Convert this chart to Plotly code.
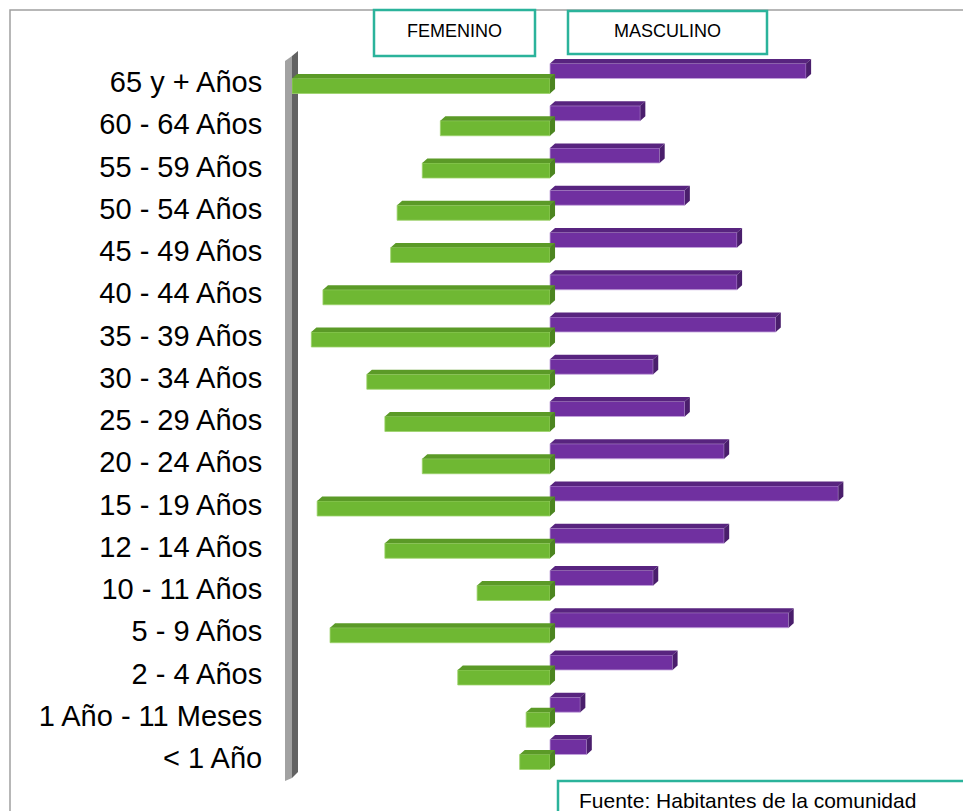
import plotly.graph_objects as go

categories = ["< 1 Año", "1 Año - 11 Meses", "2 - 4 Años", "5 - 9 Años", "10 - 11 Años",
              "12 - 14 Años", "15 - 19 Años", "20 - 24 Años", "25 - 29 Años", "30 - 34 Años",
              "35 - 39 Años", "40 - 44 Años", "45 - 49 Años", "50 - 54 Años", "55 - 59 Años",
              "60 - 64 Años", "65 y + Años"]
femenino = [4.7, 3.7, 14.3, 34.1, 11.3, 25.6, 36.1, 19.8, 25.6, 28.4, 37.0, 35.2, 24.7, 23.7, 19.8, 17.0, 40.0]
masculino = [5.7, 4.7, 19.0, 37.0, 16.0, 27.0, 44.7, 27.0, 20.9, 16.0, 35.0, 29.0, 29.0, 20.9, 17.0, 14.0, 39.7]
legend_labels = ["FEMENINO", "MASCULINO"]
source_text = "Fuente: Habitantes de la comunidad"

# page is offset by the default 8px body margin
OFF = 8
PAGE_W, PAGE_H = 971, 811
W, H = PAGE_W - OFF, PAGE_H - OFF
L, R, T, B = 292, 880, 44, 796          # plot area in page pixels
XMIN, XMAX = -40.0, 51.16
YMIN, YMAX = -0.9, 16.9

def pxx(x):
    return (x - L) / (R - L)

def pxy(y):
    return (B - y) / (B - T)

idx = list(range(len(categories)))
BW = 0.355
M_OFF = 0.083
F_OFF = -0.272
DX = 0.78
DY = 0.107

fig = go.Figure()
fig.add_trace(go.Bar(y=idx, x=[-v for v in femenino], orientation="h", width=BW, offset=F_OFF,
                     marker=dict(color="#6FB833", line=dict(color="#9CD26A", width=0.8)),
                     name="Femenino", showlegend=False, hoverinfo="skip"))
fig.add_trace(go.Bar(y=idx, x=masculino, orientation="h", width=BW, offset=M_OFF,
                     marker=dict(color="#7030A0", line=dict(color="#C3A3DC", width=0.8)),
                     name="Masculino", showlegend=False, hoverinfo="skip"))

def faces(vals, off, sign):
    topx, topy, sidex, sidey = [], [], [], []
    for i, v in zip(idx, vals):
        yb = i + off
        yt = yb + BW
        if sign > 0:
            x0, x1 = 0.0, v
        else:
            x0, x1 = -v, 0.0
        topx += [x0, x1, x1 + DX, x0 + DX, x0, None]
        topy += [yt, yt, yt + DY, yt + DY, yt, None]
        sidex += [x1, x1, x1 + DX, x1 + DX, x1, None]
        sidey += [yb, yt, yt + DY, yb + DY, yb, None]
    return topx, topy, sidex, sidey

for vals, off, sign, ctop, cside in [(femenino, F_OFF, -1, "#5B9A27", "#4C8520"),
                                      (masculino, M_OFF, 1, "#58247F", "#4A1E6C")]:
    tx, ty, sx, sy = faces(vals, off, sign)
    fig.add_trace(go.Scatter(x=tx, y=ty, fill="toself", fillcolor=ctop, mode="lines",
                             line=dict(width=0, color=ctop), showlegend=False, hoverinfo="skip"))
    fig.add_trace(go.Scatter(x=sx, y=sy, fill="toself", fillcolor=cside, mode="lines",
                             line=dict(width=0, color=cside), showlegend=False, hoverinfo="skip"))

shapes = []
# outer frame
shapes.append(dict(type="rect", xref="paper", yref="paper", x0=pxx(10), x1=pxx(990), y0=pxy(830), y1=pxy(10),
                   line=dict(color="#A0A0A0", width=1.5), fillcolor="rgba(0,0,0,0)", layer="below"))

def path(pts):
    return "M " + " L ".join(f"{pxx(a):.5f},{pxy(b):.5f}" for a, b in pts) + " Z"

# 3D wall
shapes.append(dict(type="path", xref="paper", yref="paper",
                   path=path([(285, 61), (292, 56), (292, 778), (285, 781)]),
                   fillcolor="#A2A2A2", line=dict(width=0), layer="below"))
shapes.append(dict(type="path", xref="paper", yref="paper",
                   path=path([(292, 56), (298, 51), (298, 772), (292, 778)]),
                   fillcolor="#626262", line=dict(width=0), layer="below"))
# legend boxes
shapes.append(dict(type="rect", xref="paper", yref="paper", x0=pxx(374), x1=pxx(535), y0=pxy(56), y1=pxy(10),
                   line=dict(color="#2BB39B", width=2.5), fillcolor="white", layer="above"))
shapes.append(dict(type="rect", xref="paper", yref="paper", x0=pxx(568), x1=pxx(767), y0=pxy(54), y1=pxy(11),
                   line=dict(color="#2BB39B", width=2.5), fillcolor="white", layer="above"))
# source box
shapes.append(dict(type="rect", xref="paper", yref="paper", x0=pxx(558), x1=pxx(1000), y0=pxy(840), y1=pxy(781),
                   line=dict(color="#2BB39B", width=2.5), fillcolor="white", layer="above"))

font_fam = "Liberation Sans, Arial"
annotations = [
    dict(xref="paper", yref="paper", x=pxx(454.5), y=pxy(31), text=legend_labels[0], showarrow=False,
         font=dict(family=font_fam, size=18, color="black"), xanchor="center", yanchor="middle"),
    dict(xref="paper", yref="paper", x=pxx(667.5), y=pxy(31), text=legend_labels[1], showarrow=False,
         font=dict(family=font_fam, size=18, color="black"), xanchor="center", yanchor="middle"),
    dict(xref="paper", yref="paper", x=pxx(577), y=pxy(800), text=source_text, showarrow=False,
         font=dict(family=font_fam, size=21, color="black"), xanchor="left", yanchor="middle"),
]

fig.update_layout(
    width=W, height=H,
    margin=dict(l=L - OFF, r=PAGE_W - R, t=T - OFF, b=PAGE_H - B, pad=0),
    paper_bgcolor="white", plot_bgcolor="rgba(0,0,0,0)",
    barmode="overlay",
    shapes=shapes, annotations=annotations,
    xaxis=dict(range=[XMIN, XMAX], showgrid=False, zeroline=False, showticklabels=False,
               showline=False, ticks=""),
    yaxis=dict(range=[YMIN, YMAX], tickvals=idx, ticktext=categories, showgrid=False, zeroline=False,
               showline=False, ticks="outside", ticklen=23, tickcolor="rgba(0,0,0,0)",
               tickfont=dict(family=font_fam, size=29, color="black")),
)

fig.write_html("out.html")
